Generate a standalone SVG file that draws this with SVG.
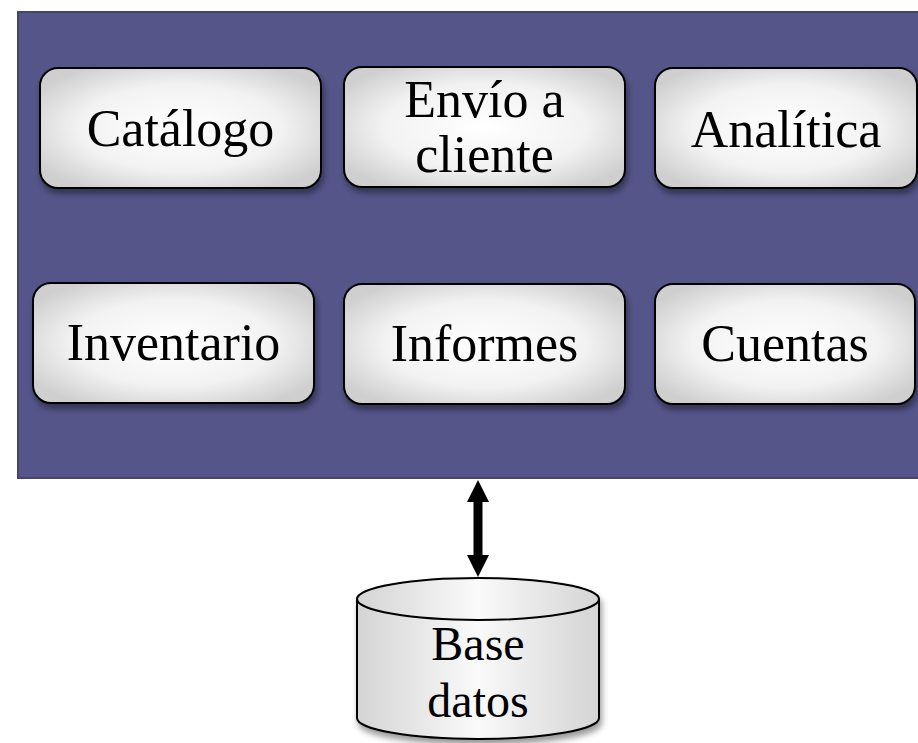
<svg xmlns="http://www.w3.org/2000/svg" width="918" height="743" viewBox="0 0 918 743">
<style>
.box{fill:url(#g);stroke:#000;stroke-width:2;filter:url(#sh)}
.t{font-family:"Liberation Serif","Times New Roman",serif;font-size:52px;fill:#000;text-anchor:middle}
.tb{font-family:"Liberation Serif","Times New Roman",serif;font-size:48px;fill:#000;text-anchor:middle}
</style>
<defs>
<radialGradient id="g" cx="50%" cy="50%" r="60%">
<stop offset="0" stop-color="#ffffff"/>
<stop offset="0.6" stop-color="#f2f2f2"/>
<stop offset="1" stop-color="#cfcfcf"/>
</radialGradient>
<linearGradient id="cg" x1="0" y1="0" x2="1" y2="0">
<stop offset="0" stop-color="#d4d4d4"/>
<stop offset="0.5" stop-color="#fafafa"/>
<stop offset="1" stop-color="#d4d4d4"/>
</linearGradient>
<filter id="sh" x="-10%" y="-10%" width="125%" height="135%">
<feGaussianBlur in="SourceAlpha" stdDeviation="3"/>
<feOffset dx="2" dy="5" result="b"/>
<feComponentTransfer><feFuncA type="linear" slope="0.4"/></feComponentTransfer>
<feMerge><feMergeNode/><feMergeNode in="SourceGraphic"/></feMerge>
</filter>
</defs>
<rect width="918" height="743" fill="#fff"/>
<g id="container">
<rect x="18" y="12" width="910" height="466" fill="#55558a" stroke="#45456f" stroke-width="2"/>
</g>
<g id="catalogo">
<rect class="box" x="40" y="68" width="281" height="120" rx="18"/>
<text class="t" x="180.5" y="146">Catálogo</text>
</g>
<g id="envio">
<rect class="box" x="344" y="67" width="281" height="120" rx="18"/>
<text class="t" x="484.5" y="117">Envío a</text>
<text class="t" x="484.5" y="172">cliente</text>
</g>
<g id="analitica">
<rect class="box" x="655" y="68" width="262" height="120" rx="18"/>
<text class="t" x="786" y="147">Analítica</text>
</g>
<g id="inventario">
<rect class="box" x="33" y="283" width="281" height="120" rx="18"/>
<text class="t" x="173.5" y="360">Inventario</text>
</g>
<g id="informes">
<rect class="box" x="344" y="284" width="281" height="120" rx="18"/>
<text class="t" x="484.5" y="361">Informes</text>
</g>
<g id="cuentas">
<rect class="box" x="655" y="284" width="260" height="120" rx="18"/>
<text class="t" x="785" y="361">Cuentas</text>
</g>
<g id="connectors">
<polygon points="478,480 489,502 482.5,502 482.5,555 489,555 478,577 467,555 473.5,555 473.5,502 467,502" fill="#000"/>
</g>
<g id="basedatos">
<path d="M357,599 L357,718 A121,21 0 0 0 599,718 L599,599 A121,21 0 0 0 357,599 Z" fill="url(#cg)" stroke="#000" stroke-width="2" filter="url(#sh)"/>
<path d="M357,599 A121,21 0 0 0 599,599" fill="none" stroke="#000" stroke-width="2"/>
<text class="tb" x="478" y="660">Base</text>
<text class="tb" x="478" y="717">datos</text>
</g>
</svg>
